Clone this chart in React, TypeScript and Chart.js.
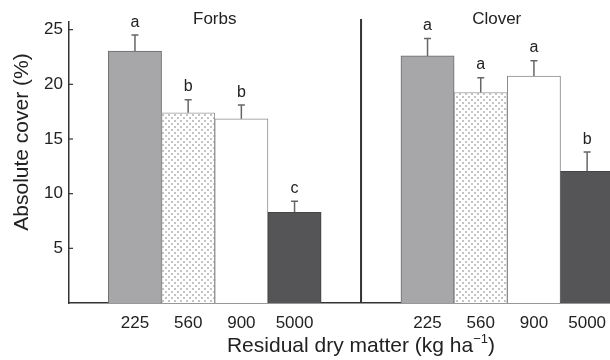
import { useEffect, useRef } from 'react';
import { Chart, registerables } from 'chart.js';

Chart.register(...registerables);

const categories = ['225', '560', '900', '5000'];
const panels = ['Forbs', 'Clover'];
const forbsCover = [23.05, 17.4, 16.85, 8.3];
const forbsSE = [1.45, 1.2, 1.25, 1.0];
const forbsLetters = ['a', 'b', 'b', 'c'];
const cloverCover = [22.6, 19.25, 20.75, 12.05];
const cloverSE = [1.6, 1.35, 1.4, 1.75];
const cloverLetters = ['a', 'a', 'a', 'b'];
const yTickValues = [5, 10, 15, 20, 25];

const FONT = "'Liberation Sans', Arial, Helvetica, sans-serif";
const TEXT = '#222';
const GROUP_GAP = 1.5;

function makeDotPattern(): CanvasPattern | string {
  const c = document.createElement('canvas');
  c.width = 6;
  c.height = 6;
  const g = c.getContext('2d');
  if (!g) return '#f0f0f0';
  g.fillStyle = '#ffffff';
  g.fillRect(0, 0, 6, 6);
  g.fillStyle = '#c4c4c4';
  g.fillRect(0, 0, 2, 2);
  g.fillRect(3, 3, 2, 2);
  const p = g.createPattern(c, 'repeat');
  return p || '#f0f0f0';
}

export default function App() {
  const ref = useRef<HTMLCanvasElement | null>(null);

  useEffect(() => {
    document.body.style.margin = '0';
    const canvas = ref.current;
    if (!canvas) return;

    const n = categories.length;
    const positions = [
      ...categories.map((_, i) => i),
      ...categories.map((_, i) => n - 1 + 1 + GROUP_GAP + i),
    ];
    const values = [...forbsCover, ...cloverCover];
    const errors = [...forbsSE, ...cloverSE];
    const letters = [...forbsLetters, ...cloverLetters];
    const labels = [...categories, ...categories];
    const dots = makeDotPattern();
    const fills = [
      '#a7a7aa', dots, '#ffffff', '#555557',
      '#a7a7aa', dots, '#ffffff', '#555557',
    ];
    const borders = [
      '#6a6a6a', '#9a9a9a', '#8a8a8a', '#444444',
      '#6a6a6a', '#9a9a9a', '#8a8a8a', '#444444',
    ];
    const dividerAt = (positions[n - 1] + 0.5 + positions[n] - 0.5) / 2;

    const overlay = {
      id: 'overlay',
      afterDatasetsDraw(chart: any) {
        const ctx = chart.ctx as CanvasRenderingContext2D;
        const ys = chart.scales.y;
        const meta = chart.getDatasetMeta(0);
        ctx.save();
        ctx.strokeStyle = '#666';
        ctx.lineWidth = 1.5;
        meta.data.forEach((bar: any, i: number) => {
          const top = ys.getPixelForValue(values[i] + errors[i]);
          ctx.beginPath();
          ctx.moveTo(bar.x, bar.y);
          ctx.lineTo(bar.x, top);
          ctx.moveTo(bar.x - 3.5, top);
          ctx.lineTo(bar.x + 3.5, top);
          ctx.stroke();
          ctx.fillStyle = TEXT;
          ctx.font = `16px ${FONT}`;
          ctx.textAlign = 'center';
          ctx.textBaseline = 'middle';
          ctx.fillText(letters[i], bar.x, top - 13);
        });
        ctx.restore();
      },
      afterDraw(chart: any) {
        const ctx = chart.ctx as CanvasRenderingContext2D;
        const xs = chart.scales.x;
        const ys = chart.scales.y;
        const area = chart.chartArea;
        ctx.save();
        ctx.strokeStyle = '#333';
        ctx.lineWidth = 1.2;
        yTickValues.forEach((v) => {
          const y = ys.getPixelForValue(v);
          ctx.beginPath();
          ctx.moveTo(area.left, y);
          ctx.lineTo(area.left + 4, y);
          ctx.stroke();
        });
        const dx = xs.getPixelForValue(dividerAt);
        ctx.lineWidth = 2;
        ctx.strokeStyle = '#333';
        ctx.beginPath();
        ctx.moveTo(dx, area.top - 3);
        ctx.lineTo(dx, area.bottom);
        ctx.stroke();
        ctx.fillStyle = TEXT;
        ctx.font = `17px ${FONT}`;
        ctx.textAlign = 'center';
        ctx.textBaseline = 'middle';
        const forbsCenter = (positions[0] + positions[n - 1]) / 2;
        const cloverCenter = (positions[n] + positions[2 * n - 1]) / 2 - 0.2;
        ctx.fillText(panels[0], xs.getPixelForValue(forbsCenter), 19);
        ctx.fillText(panels[1], xs.getPixelForValue(cloverCenter), 19);
        ctx.save();
        ctx.translate(22, 142);
        ctx.rotate(-Math.PI / 2);
        ctx.font = `21px ${FONT}`;
        ctx.fillText('Absolute cover (%)', 0, 0);
        ctx.restore();
        const main = 'Residual dry matter (kg ha';
        const sup = '\u22121';
        const end = ')';
        ctx.font = `21px ${FONT}`;
        const wMain = ctx.measureText(main).width;
        const wEnd = ctx.measureText(end).width;
        ctx.font = `13px ${FONT}`;
        const wSup = ctx.measureText(sup).width;
        const total = wMain + wSup + wEnd;
        const x0 = 361 - total / 2;
        const yb = 352;
        ctx.textAlign = 'left';
        ctx.textBaseline = 'alphabetic';
        ctx.font = `21px ${FONT}`;
        ctx.fillText(main, x0, yb);
        ctx.font = `13px ${FONT}`;
        ctx.fillText(sup, x0 + wMain, yb - 9);
        ctx.font = `21px ${FONT}`;
        ctx.fillText(end, x0 + wMain + wSup, yb);
        ctx.restore();
      },
    };

    const chart = new Chart(canvas, {
      type: 'bar',
      data: {
        datasets: [
          {
            data: positions.map((x, i) => ({ x, y: values[i] })),
            backgroundColor: fills as any,
            borderColor: borders,
            borderWidth: 1,
            barPercentage: 1,
            categoryPercentage: 1,
          },
        ],
      },
      options: {
        responsive: false,
        animation: false,
        layout: { padding: { top: 22, right: 0, left: 0, bottom: 0 } },
        plugins: { legend: { display: false }, tooltip: { enabled: false } },
        scales: {
          x: {
            type: 'linear',
            offset: false,
            min: -1.24,
            max: 8.93,
            grid: { display: false, drawTicks: false, offset: false },
            border: { display: true, color: '#333', width: 1.5 },
            afterBuildTicks: (s: any) => {
              s.ticks = positions.map((v) => ({ value: v }));
            },
            ticks: {
              autoSkip: false,
              maxRotation: 0,
              padding: 10,
              color: TEXT,
              font: { family: FONT, size: 17 },
              callback: (_v: any, i: number) => labels[i],
            },
            afterFit: (s: any) => {
              s.height = 57;
              s.paddingLeft = 0;
              s.paddingRight = 0;
            },
          },
          y: {
            min: 0,
            max: 25.7,
            grid: { display: false, drawTicks: false },
            border: { display: true, color: '#333', width: 1.5 },
            ticks: {
              stepSize: 5,
              includeBounds: false,
              padding: 6,
              color: TEXT,
              font: { family: FONT, size: 17 },
              callback: (v: any) => (v === 0 ? '' : String(v)),
            },
            afterFit: (s: any) => {
              s.width = 69;
              s.paddingTop = 0;
              s.paddingBottom = 0;
            },
          },
        },
      },
      plugins: [overlay],
    });

    return () => chart.destroy();
  }, []);

  return (
    <div style={{ width: 610, height: 360 }}>
      <canvas ref={ref} width={610} height={360} style={{ width: 610, height: 360, display: 'block' }} />
    </div>
  );
}
